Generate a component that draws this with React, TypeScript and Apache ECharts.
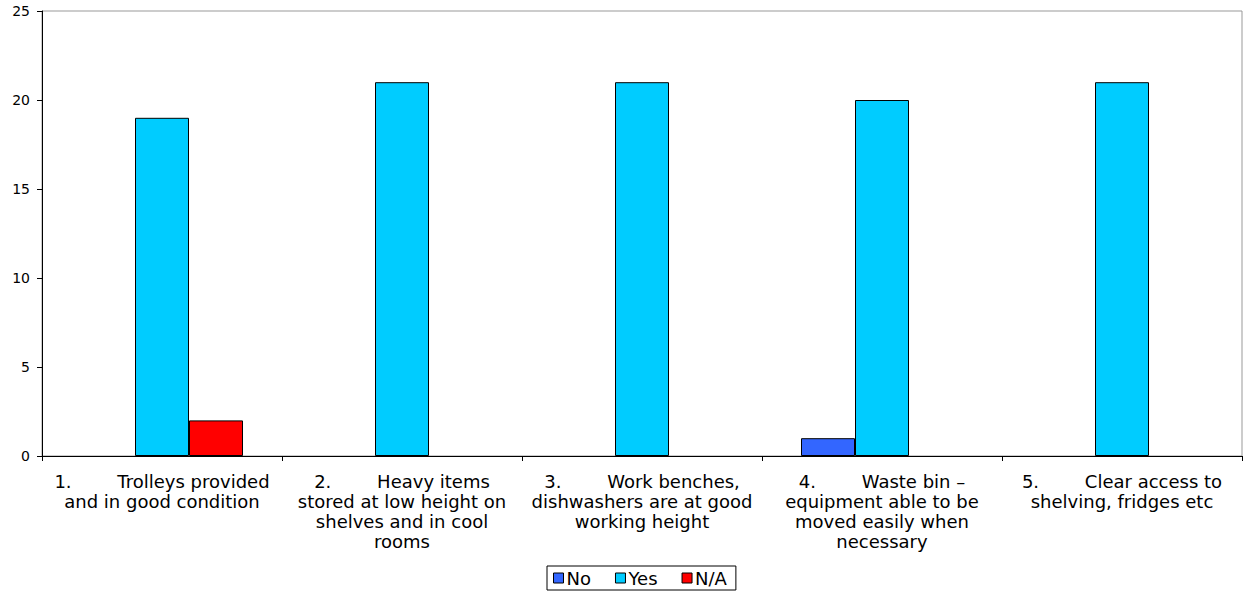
import React, { useEffect, useRef } from "react";
import * as echarts from "echarts";

const categories = [
  "1.        Trolleys provided\nand in good condition",
  "2.        Heavy items\nstored at low height on\nshelves and in cool\nrooms",
  "3.        Work benches,\ndishwashers are at good\nworking height",
  "4.        Waste bin –\nequipment able to be\nmoved easily when\nnecessary",
  "5.        Clear access to\nshelving, fridges etc",
];
const noValues = [0, 0, 0, 1, 0];
const yesValues = [19, 21, 21, 20, 21];
const naValues = [2, 0, 0, 0, 0];
const yTicks = { min: 0, max: 25, interval: 5 };

export default function App() {
  const ref = useRef<HTMLDivElement>(null);
  useEffect(() => {
    if (!ref.current) return;
    const chart = echarts.init(ref.current, null, { renderer: "svg" });
    const font = "'DejaVu Sans', Arial, sans-serif";
    const mk = (name: string, data: number[], color: string) => ({
      name,
      type: "bar",
      data: data.map((v) => (v === 0 ? null : v)),
      barGap: "0%",
      barCategoryGap: "32.5%",
      itemStyle: { color, borderColor: "#000", borderWidth: 1 },
    });
    chart.setOption({
      animation: false,
      textStyle: { fontFamily: font },
      grid: {
        left: 42,
        right: 2,
        top: 11,
        bottom: 136,
        show: true,
        borderColor: "#999",
        borderWidth: 1,
      },
      legend: {
        bottom: 2,
        left: 547,
        itemWidth: 10,
        itemHeight: 10,
        itemGap: 24,
        padding: [3, 9, 3, 6],
        borderColor: "#000",
        borderWidth: 1,
        icon: "rect",
        itemStyle: { borderColor: "#000", borderWidth: 1 },
        textStyle: { fontSize: 18, color: "#000", fontFamily: font, padding: [0, 0, 0, -2] },
        data: ["No", "Yes", "N/A"],
      },
      xAxis: {
        type: "category",
        data: categories,
        axisLine: { lineStyle: { color: "#000", width: 1 } },
        axisTick: { show: true, length: 5, lineStyle: { color: "#000" } },
        axisLabel: {
          interval: 0,
          fontSize: 18,
          color: "#000",
          lineHeight: 20,
          align: "center",
          margin: 15,
          fontFamily: font,
        },
      },
      yAxis: {
        type: "value",
        min: yTicks.min,
        max: yTicks.max,
        interval: yTicks.interval,
        splitLine: { show: false },
        axisLine: { show: true, lineStyle: { color: "#000", width: 1 } },
        axisTick: { show: true, length: 5, lineStyle: { color: "#000" } },
        axisLabel: { fontSize: 14, color: "#000", margin: 12, fontFamily: font },
      },
      series: [
        mk("No", noValues, "#3366FF"),
        mk("Yes", yesValues, "#00CCFF"),
        mk("N/A", naValues, "#FF0000"),
      ],
    });
    return () => chart.dispose();
  }, []);
  return (
    <div
      ref={ref}
      style={{ position: "absolute", left: 0, top: 0, width: 1244, height: 592, background: "#fff" }}
    />
  );
}
